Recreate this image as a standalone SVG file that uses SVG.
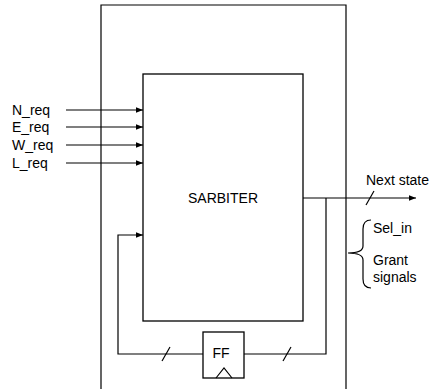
<svg xmlns="http://www.w3.org/2000/svg" width="429" height="389" viewBox="0 0 429 389">
<defs>
<style>
.ln{fill:none;stroke:#000;stroke-width:1.2}
.bx{fill:#fff;stroke:#000;stroke-width:1.3}
.t{font-family:"Liberation Sans",Arial,sans-serif;font-size:14px;fill:#000}
</style>
<marker id="ah" viewBox="0 0 10 10" refX="10" refY="5" markerWidth="7" markerHeight="7" markerUnits="userSpaceOnUse" orient="auto">
<path d="M0,1 L10,5 L0,9 Z" fill="#000"/>
</marker>
</defs>
<rect width="429" height="389" fill="#fff"/>
<g id="outer">
<path class="ln" d="M101,389 V5 H346 V389"/>
</g>
<g id="sarbiter">
<rect class="bx" x="143" y="74" width="160" height="247"/>
<text class="t" x="223" y="203" text-anchor="middle">SARBITER</text>
</g>
<g id="ff">
<rect class="bx" x="203" y="332" width="41" height="46"/>
<text class="t" x="221" y="358" text-anchor="middle">FF</text>
<path class="ln" d="M216,378 L224,368 L232,378"/>
</g>
<g id="labels">
<text class="t" x="12" y="114.5">N_req</text>
<text class="t" x="12" y="131.5">E_req</text>
<text class="t" x="12" y="149.5">W_req</text>
<text class="t" x="12" y="167.5">L_req</text>
<text class="t" x="366" y="185">Next state</text>
<text class="t" x="373" y="233">Sel_in</text>
<text class="t" x="373" y="265">Grant</text>
<text class="t" x="373" y="282">signals</text>
</g>
<g id="connectors">
<path class="ln" d="M66,110 H143" marker-end="url(#ah)"/>
<path class="ln" d="M66,127 H143" marker-end="url(#ah)"/>
<path class="ln" d="M66,145 H143" marker-end="url(#ah)"/>
<path class="ln" d="M66,163 H143" marker-end="url(#ah)"/>
<path class="ln" d="M303,198 H416" marker-end="url(#ah)"/>
<path class="ln" d="M366,205 L374,191"/>
<path class="ln" d="M326,198 V354 H244"/>
<path class="ln" d="M283,361 L291,347"/>
<path class="ln" d="M203,354 H118 V235 H143" marker-end="url(#ah)"/>
<path class="ln" d="M162,361 L170,347"/>
<path class="ln" d="M371,220 Q363,220 363,229 V246 Q363,253 348,253 Q363,253 363,260 V279 Q363,288 371,288"/>
</g>
</svg>
